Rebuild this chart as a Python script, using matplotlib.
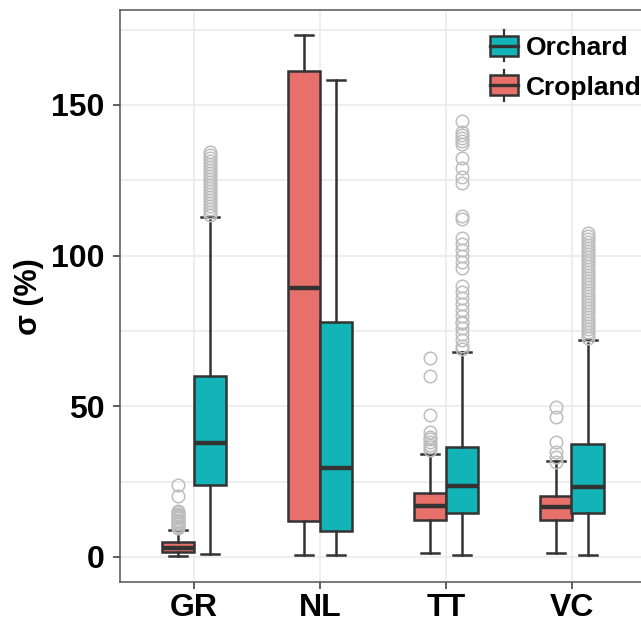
import matplotlib
matplotlib.use("Agg")
import matplotlib.pyplot as plt
import numpy as np
from matplotlib.legend_handler import HandlerBase
from matplotlib.patches import Rectangle, Patch
from matplotlib.lines import Line2D
from matplotlib.ticker import MultipleLocator

plt.rcParams['font.family'] = ['Liberation Sans', 'DejaVu Sans']
plt.rcParams['font.weight'] = 'bold'

categories = ['GR', 'NL', 'TT', 'VC']

# Cropland box statistics
crop_q1 = [1.5, 12.1, 12.3, 12.3]
crop_med = [3.0, 89.3, 16.9, 16.7]
crop_q3 = [4.9, 161.1, 21.3, 20.2]
crop_lo = [0.3, 0.7, 1.2, 1.2]
crop_hi = [9.0, 173.1, 34.1, 31.8]
crop_out = [
    [9.6, 10.0, 10.4, 10.8, 11.2, 11.6, 12.0, 12.4, 12.8, 13.2, 13.6, 14.0,
     14.4, 14.8, 15.3, 20.2, 23.9],
    [],
    [35.5, 36.4, 37.3, 38.2, 39.1, 39.9, 41.4, 47.1, 60.1, 65.9],
    [31.6, 33.3, 35.0, 38.1, 46.4, 49.7],
]

# Orchard box statistics
orch_q1 = [23.9, 8.7, 14.5, 14.5]
orch_med = [37.9, 29.6, 23.7, 23.3]
orch_q3 = [60.1, 77.9, 36.4, 37.5]
orch_lo = [0.9, 0.5, 0.7, 0.7]
orch_hi = [112.8, 158.2, 68.1, 72.0]
orch_out = [
    [113.5, 114.5, 115.5, 116.5, 117.5, 118.5, 119.5, 120.5, 121.5, 122.5,
     123.5, 124.5, 125.5, 126.5, 127.5, 128.5, 129.5, 130.5, 131.5, 132.5,
     133.5, 134.3],
    [],
    [69.0, 70.0, 72.0, 74.0, 76.0, 77.6, 78.0, 80.0, 82.0, 84.0, 86.0, 88.0,
     90.0, 96.0, 98.0, 100.0, 102.0, 104.0, 105.8, 112.0, 113.0, 124.1,
     126.2, 129.0, 132.4, 137.0, 138.0, 139.0, 140.0, 141.0, 144.6],
    [72.5, 73.5, 74.5, 75.5, 76.5, 77.5, 78.5, 79.5, 80.5, 81.5, 82.5, 83.5,
     84.5, 85.5, 86.5, 87.5, 88.5, 89.5, 90.5, 91.5, 92.5, 93.5, 94.5, 95.5,
     96.5, 97.5, 98.5, 99.5, 100.5, 101.5, 102.5, 103.5, 104.5, 105.5,
     106.5, 107.5],
]

CROP_COLOR = '#E8706A'
ORCH_COLOR = '#12B4B7'
EDGE = '#333333'


def make_stats(q1, med, q3, lo, hi, out):
    stats = []
    for i in range(len(q1)):
        stats.append(dict(q1=q1[i], med=med[i], q3=q3[i], whislo=lo[i],
                          whishi=hi[i], fliers=np.array(out[i])))
    return stats


class BoxKeyHandler(HandlerBase):
    """legend key that looks like a small boxplot"""
    def create_artists(self, legend, orig_handle, xdescent, ydescent,
                       width, height, fontsize, trans):
        x0 = -xdescent
        y0 = -ydescent
        rect = Rectangle((x0, y0), width, height,
                         facecolor=orig_handle.get_facecolor(),
                         edgecolor=EDGE, linewidth=1.8, transform=trans)
        xm = x0 + width / 2
        stub = height * 0.28
        wl = Line2D([xm, xm], [y0 - stub, y0 + height + stub],
                    color=EDGE, linewidth=1.6, transform=trans)
        ml = Line2D([x0, x0 + width], [y0 + height / 2] * 2,
                    color=EDGE, linewidth=2.4, transform=trans)
        return [wl, rect, ml]


fig = plt.figure(figsize=(6.41, 6.22), dpi=100)
ax = fig.add_axes([120 / 641, 40 / 622, 527 / 641, 572 / 622])

pos = np.arange(1, len(categories) + 1)
dodge = 0.127
bw = 0.255

common = dict(widths=bw, capwidths=0.143, patch_artist=True, manage_ticks=False,
              whiskerprops=dict(color=EDGE, linewidth=1.8),
              capprops=dict(color=EDGE, linewidth=1.8),
              medianprops=dict(color=EDGE, linewidth=3.2),
              flierprops=dict(marker='o', markerfacecolor='none',
                              markeredgecolor='#BDBDBD', markersize=9,
                              markeredgewidth=1.1, zorder=4))

ax.bxp(make_stats(crop_q1, crop_med, crop_q3, crop_lo, crop_hi, crop_out),
       positions=pos - dodge,
       boxprops=dict(facecolor=CROP_COLOR, edgecolor=EDGE, linewidth=1.8),
       **common)
ax.bxp(make_stats(orch_q1, orch_med, orch_q3, orch_lo, orch_hi, orch_out),
       positions=pos + dodge,
       boxprops=dict(facecolor=ORCH_COLOR, edgecolor=EDGE, linewidth=1.8),
       **common)

ax.set_xlim(0.41, 4.6)
ax.set_ylim(-8.3, 181.5)
ax.set_xticks(pos)
ax.set_xticklabels(categories)
ax.yaxis.set_major_locator(MultipleLocator(50))
ax.yaxis.set_minor_locator(MultipleLocator(25))
ax.grid(which='both', color='#EBEBEB', linewidth=1.2)
ax.set_axisbelow(True)
ax.tick_params(axis='both', which='major', labelsize=23, color=EDGE,
               length=5, width=1.1, labelcolor='black')
ax.tick_params(axis='y', pad=6)
ax.tick_params(axis='x', pad=3)
ax.tick_params(which='minor', length=0)
for s in ax.spines.values():
    s.set_color('#555555')
    s.set_linewidth(1.1)

ax.set_ylabel('σ (%)', fontsize=22, fontweight='bold',
              va='center', ha='center', rotation_mode='anchor')
ax.yaxis.set_label_coords(29 / 641, 1 - 297 / 622, transform=fig.transFigure)

handles = [Patch(facecolor=ORCH_COLOR), Patch(facecolor=CROP_COLOR)]
leg = ax.legend(handles, ['Orchard', 'Cropland'], loc='upper left',
                bbox_to_anchor=(490 / 641, 1 - 36 / 622),
                bbox_transform=fig.transFigure, frameon=False,
                fontsize=19, handlelength=1.05, handleheight=0.78,
                handletextpad=0.3, labelspacing=0.58, borderpad=0,
                borderaxespad=0,
                handler_map={Patch: BoxKeyHandler()})

fig.savefig('out.png', dpi=100)
